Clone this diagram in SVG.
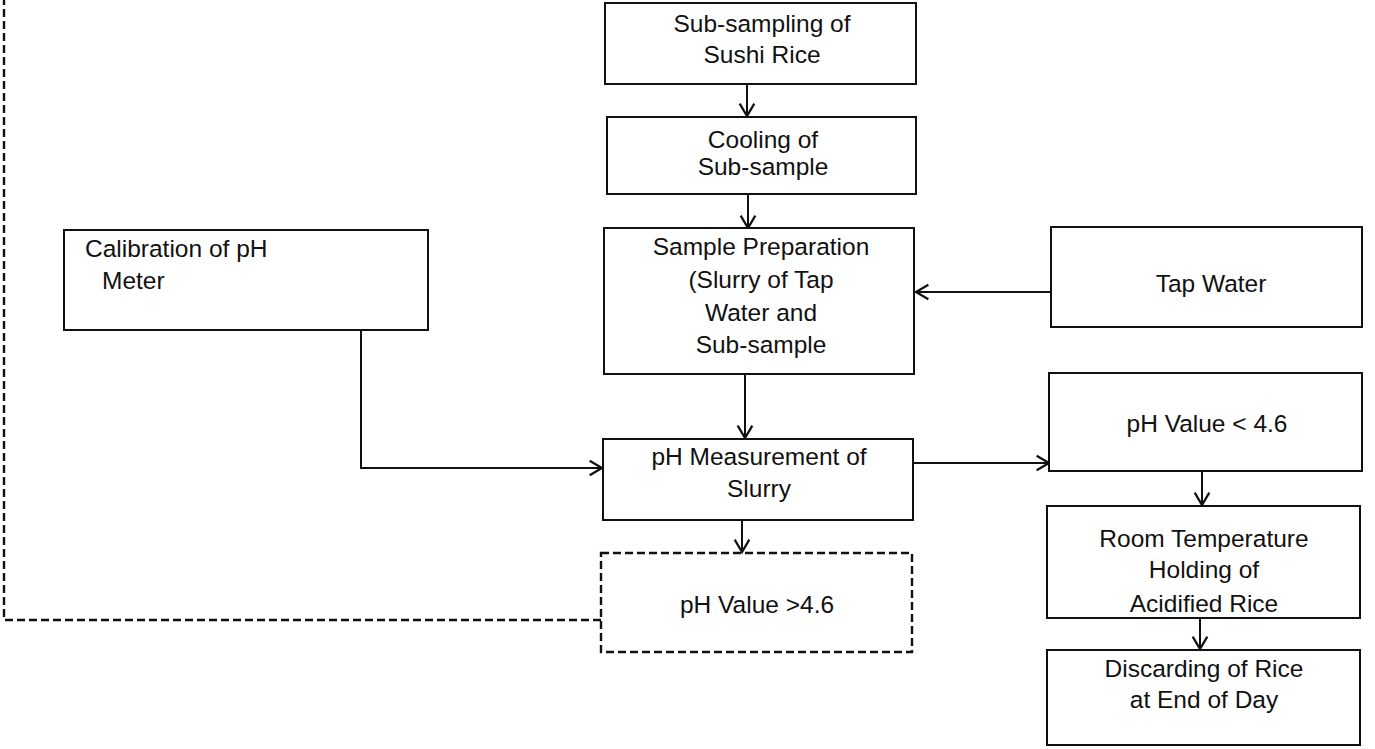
<svg xmlns="http://www.w3.org/2000/svg" width="1375" height="749" viewBox="0 0 1375 749">
<style>
.box{fill:#fff;stroke:#111;stroke-width:2}
.dash{fill:none;stroke:#111;stroke-width:2.4;stroke-dasharray:8 4}
.c{fill:none;stroke:#111;stroke-width:2}
text{font-family:"Liberation Sans",Arial,sans-serif;font-size:24.5px;fill:#111}
.m{text-anchor:middle}
</style>
<defs>
<marker id="ah" markerUnits="userSpaceOnUse" markerWidth="18" markerHeight="18" refX="13" refY="8" orient="auto" viewBox="0 0 16 16">
<path d="M2,1.5 L13,8 L2,14.5" fill="none" stroke="#111" stroke-width="2"/>
</marker>
</defs>
<rect width="1375" height="749" fill="#fff"/>
<g id="connectors">
<line class="c" x1="747" y1="84" x2="747" y2="116" marker-end="url(#ah)"/>
<line class="c" x1="748" y1="194" x2="748" y2="228" marker-end="url(#ah)"/>
<line class="c" x1="745" y1="374" x2="745" y2="438" marker-end="url(#ah)"/>
<line class="c" x1="742" y1="520" x2="742" y2="552" marker-end="url(#ah)"/>
<line class="c" x1="1051" y1="292" x2="916" y2="292" stroke-width="1.5" marker-end="url(#ah)"/>
<polyline class="c" points="361,330 361,468 602,468" stroke-width="3" marker-end="url(#ah)"/>
<line class="c" x1="913" y1="463" x2="1049" y2="463" marker-end="url(#ah)"/>
<line class="c" x1="1202" y1="471" x2="1202" y2="505" marker-end="url(#ah)"/>
<line class="c" x1="1200" y1="618" x2="1200" y2="649" marker-end="url(#ah)"/>
<polyline class="dash" points="601,620 4,620 4,0"/>
</g>
<g id="n1"><rect class="box" x="605" y="3" width="311" height="81"/>
<text class="m" x="762" y="32">Sub-sampling of</text><text class="m" x="762" y="63">Sushi Rice</text></g>
<g id="n2"><rect class="box" x="607" y="117" width="309" height="77"/>
<text class="m" x="763" y="148">Cooling of</text><text class="m" x="763" y="175">Sub-sample</text></g>
<g id="n3"><rect class="box" x="604" y="228" width="310" height="146"/>
<text class="m" x="761" y="255">Sample Preparation</text><text class="m" x="761" y="288">(Slurry of Tap</text><text class="m" x="761" y="321">Water and</text><text class="m" x="761" y="353">Sub-sample</text></g>
<g id="n4"><rect class="box" x="603" y="439" width="310" height="81"/>
<text class="m" x="759" y="465">pH Measurement of</text><text class="m" x="759" y="497">Slurry</text></g>
<g id="n5"><rect class="dash" x="601" y="553" width="311" height="99"/>
<text class="m" x="757" y="613">pH Value &gt;4.6</text></g>
<g id="n6"><rect class="box" x="64" y="230" width="364" height="100"/>
<text x="85" y="257">Calibration of pH</text><text x="102" y="289">Meter</text></g>
<g id="n7"><rect class="box" x="1051" y="227" width="311" height="100"/>
<text class="m" x="1211" y="292">Tap Water</text></g>
<g id="n8"><rect class="box" x="1049" y="373" width="313" height="98"/>
<text class="m" x="1207" y="432">pH Value &lt; 4.6</text></g>
<g id="n9"><rect class="box" x="1047" y="506" width="313" height="112"/>
<text class="m" x="1204" y="547">Room Temperature</text><text class="m" x="1204" y="578">Holding of</text><text class="m" x="1204" y="612">Acidified Rice</text></g>
<g id="n10"><rect class="box" x="1047" y="650" width="313" height="95"/>
<text class="m" x="1204" y="677">Discarding of Rice</text><text class="m" x="1204" y="708">at End of Day</text></g>
</svg>
